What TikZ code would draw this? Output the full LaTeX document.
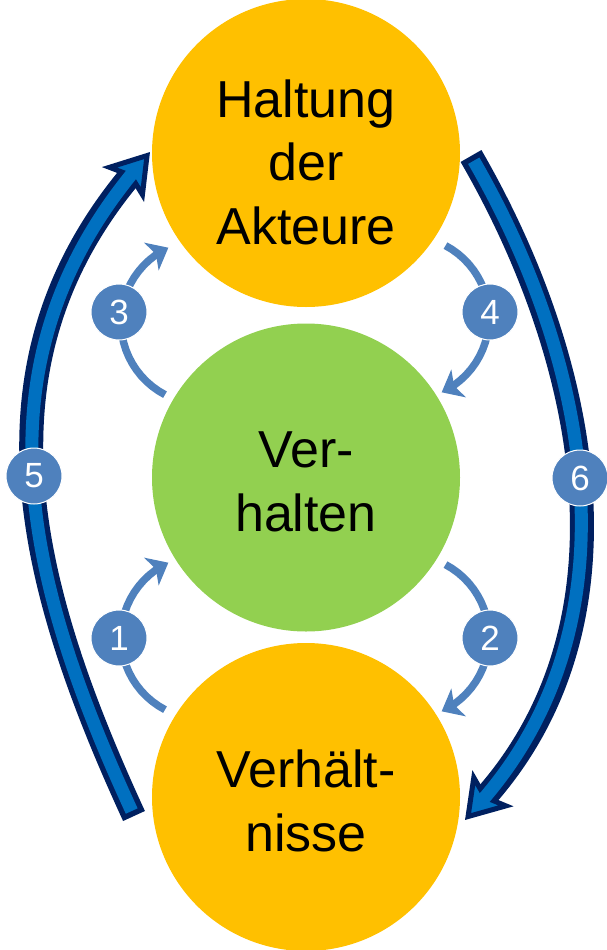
\documentclass[tikz,border=0pt]{standalone}
\usepackage{fontspec}
\setmainfont{Liberation Sans}
\usetikzlibrary{arrows.meta}
\definecolor{cyellow}{HTML}{FFC000}
\definecolor{cgreen}{HTML}{92D050}
\definecolor{csteel}{HTML}{4F81BD}
\definecolor{cblue}{HTML}{0070C0}
\definecolor{cnavy}{HTML}{002060}
\begin{document}
\begin{tikzpicture}[x=1pt,y=-1pt,
  bigcirc/.style={circle, inner sep=0pt, minimum size=308pt},
  maintext/.style={align=center, font=\fontsize{52}{63.5}\selectfont, inner sep=0pt},
  numlabel/.style={circle, fill=csteel, draw=white, line width=1pt, minimum size=56pt, inner sep=0pt, text=white, font=\fontsize{35}{40}\selectfont},
  loopline/.style={csteel, line width=7.5pt, -{Stealth[length=19pt,width=31pt,inset=5pt]}},
  bigouter/.style={cnavy, line width=24pt, -{Stealth[length=42pt,width=54pt,inset=9pt,line width=5pt,fill=cblue]}},
  biginner/.style={cblue, line width=13pt, shorten <=5.5pt, shorten >=24pt},
]
\useasboundingbox (0,0) rectangle (606,950);
% main circles
\node[bigcirc, fill=cyellow] (haltung) at (306,153) {};
\node[bigcirc, fill=cgreen] (verhalten) at (306,477.5) {};
\node[bigcirc, fill=cyellow] (verhaeltnisse) at (306,797) {};
% big arrows
\coordinate (b5s) at (134,816);
\coordinate (b5e) at (150,152);
\coordinate (b6s) at (471,156);
\coordinate (b6e) at (465,820);
\draw[bigouter] (b5s) .. controls (29,588) and (-30,369) .. (b5e);
\draw[biginner] (b5s) .. controls (29,588) and (-30,369) .. (b5e);
\draw[bigouter] (b6s) .. controls (589,360) and (640,621) .. (b6e);
\draw[biginner] (b6s) .. controls (589,360) and (640,621) .. (b6e);
% small loop arrows
\draw[loopline] plot[domain=117.6:245, samples=25] ({203+82*cos(\x)},{637+82*sin(\x)});
\draw[loopline] plot[domain=117.6:245, samples=25] ({203+82*cos(\x)},{322+82*sin(\x)});
\draw[loopline] plot[domain=-62:65, samples=25] ({407+82*cos(\x)},{637+82*sin(\x)});
\draw[loopline] plot[domain=-62:65, samples=25] ({407+82*cos(\x)},{318+82*sin(\x)});
% number labels
\node[numlabel] (n1) at (119,638) {1};
\node[numlabel] (n2) at (490,638) {2};
\node[numlabel] (n3) at (119,312) {3};
\node[numlabel] (n4) at (490,312) {4};
\node[numlabel] (n5) at (34,476) {5};
\node[numlabel] (n6) at (580,478) {6};
% texts
\node[maintext] (thaltung) at (306,162) {Haltung\\der\\Akteure};
\node[maintext] (tverhalten) at (306,482) {Ver-\\halten};
\node[maintext] (tverhaeltnisse) at (306,801) {Verhält-\\nisse};
\end{tikzpicture}
\end{document}
